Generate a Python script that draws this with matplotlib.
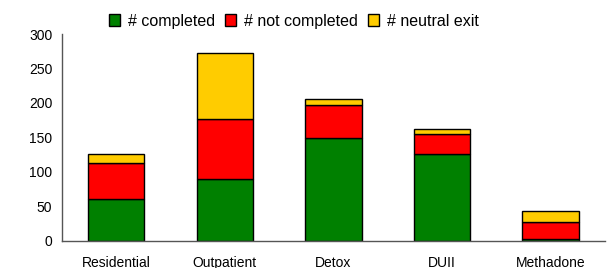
import matplotlib.pyplot as plt
import numpy as np

categories = ['Residential', 'Outpatient', 'Detox', 'DUII', 'Methadone']
completed = [60, 90, 149, 125, 2]
not_completed = [52, 87, 48, 30, 25]
neutral_exit = [14, 95, 8, 7, 16]

plt.rcParams['font.family'] = ['Liberation Sans', 'DejaVu Sans']

fig = plt.figure(figsize=(6.13, 2.68), dpi=100)
ax = fig.add_axes([0.101, 0.1026, 0.886, 0.7704])

x = np.arange(len(categories))
w = 0.52
bottom2 = np.array(completed)
bottom3 = bottom2 + np.array(not_completed)

ax.bar(x, completed, w, color='#008000', edgecolor='black', linewidth=1, label='# completed')
ax.bar(x, not_completed, w, bottom=bottom2, color='#FF0000', edgecolor='black', linewidth=1, label='# not completed')
ax.bar(x, neutral_exit, w, bottom=bottom3, color='#FFCC00', edgecolor='black', linewidth=1, label='# neutral exit')

ax.set_xlim(-0.5, 4.5)
ax.set_ylim(0, 300)
ax.set_yticks(range(0, 301, 50))
ax.set_xticks(x)
ax.set_xticklabels(categories)
ax.tick_params(axis='both', length=0, labelsize=10)
ax.tick_params(axis='y', pad=7)
ax.tick_params(axis='x', pad=11)

for s in ['top', 'right']:
    ax.spines[s].set_visible(False)
for s in ['left', 'bottom']:
    ax.spines[s].set_color('#555555')
    ax.spines[s].set_linewidth(1)

fig.legend(loc='center', bbox_to_anchor=(294 / 613, 1 - 21 / 268), ncol=3, frameon=False,
           fontsize=11.5, handlelength=0.7, handleheight=0.7, handletextpad=0.5,
           columnspacing=0.6, borderaxespad=0)

fig.savefig('out.png', dpi=100)
